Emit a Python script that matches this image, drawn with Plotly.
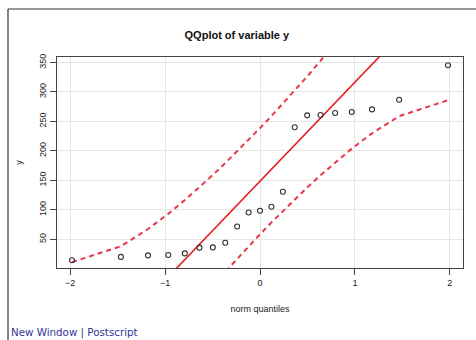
import plotly.graph_objects as go

# theoretical normal quantiles (x) and sorted sample values (y)
norm_q = [-1.981, -1.466, -1.180, -0.967, -0.792, -0.638, -0.497, -0.366, -0.241, -0.120, 0.0,
          0.120, 0.241, 0.366, 0.497, 0.638, 0.792, 0.967, 1.180, 1.466, 1.981]
y_vals = [14.3, 20.0, 22.6, 23.3, 26.0, 35.7, 36.2, 44.1, 71.7, 95.4, 98.3,
          105.1, 130.5, 240.0, 260.3, 260.8, 264.2, 265.9, 270.4, 286.7, 345.4]
# confidence envelope
env_upper = [11.1, 38.1, 67.3, 93.1, 116.5, 138.4, 159.2, 179.3, 199.0, 218.6, 238.6,
             259.0, 280.0, 302.3, 326.2, 352.8, 382.7, 418.1, 463.7, 530.7, 676.7]
env_lower = [-379.7, -233.7, -166.7, -121.1, -85.7, -55.8, -29.2, -5.3, 17.0, 38.0, 58.4,
             78.4, 98.0, 117.7, 137.8, 158.6, 180.5, 203.9, 229.7, 258.9, 285.9]
# reference line
line_intercept = 148.5
line_slope = 168.0
line_x = [-2.3, 2.3]
line_y = [line_intercept + line_slope * v for v in line_x]

x_ticks = [-2, -1, 0, 1, 2]
y_ticks = [50, 100, 150, 200, 250, 300, 350]

RED = "rgb(232,28,36)"
DRED = "rgb(230,55,75)"

fig = go.Figure()
fig.add_trace(go.Scatter(x=norm_q, y=env_upper, mode="lines",
                         line=dict(color=DRED, width=2, dash="5px,4px"), hoverinfo="skip"))
fig.add_trace(go.Scatter(x=norm_q, y=env_lower, mode="lines",
                         line=dict(color=DRED, width=2, dash="5px,4px"), hoverinfo="skip"))
fig.add_trace(go.Scatter(x=line_x, y=line_y, mode="lines",
                         line=dict(color=RED, width=1.6), hoverinfo="skip"))
fig.add_trace(go.Scatter(x=norm_q, y=y_vals, mode="markers",
                         marker=dict(symbol="circle-open", size=5, color="#333333",
                                     line=dict(width=1.1, color="#333333"))))

L, R, T, B = 57, 13, 57, 72
W, H = 476, 340
pw, ph = W - L - R, H - T - B

def px_x(p):
    return (p - L) / pw

def px_y(p):
    return (H - B - p) / ph

fig.update_layout(
    width=W, height=H,
    margin=dict(l=L, r=R, t=T, b=B),
    paper_bgcolor="white", plot_bgcolor="white",
    showlegend=False,
    font=dict(family="Liberation Sans, Arial, sans-serif", size=9, color="#222222"),
    title=dict(text="<b>QQplot of variable y</b>", x=px_x(259), xanchor="center",
               y=1 - 35 / H, yanchor="middle",
               font=dict(size=11, color="#111111")),
    xaxis=dict(range=[-2.139, 2.139], tickvals=x_ticks, ticktext=["\u22122", "\u22121", "0", "1", "2"],
               showgrid=True, gridcolor="#e6e6e6", gridwidth=1, zeroline=False,
               showline=True, linecolor="#444444", linewidth=1, mirror=True,
               ticks="outside", ticklen=6, tickcolor="#444444",
               title=dict(text="norm quantiles", standoff=18, font=dict(size=9))),
    yaxis=dict(range=[1.2, 359.3], tickvals=y_ticks, tickangle=-90,
               showgrid=True, gridcolor="#e6e6e6", gridwidth=1, zeroline=False,
               showline=True, linecolor="#444444", linewidth=1, mirror=True,
               ticks="outside", ticklen=6, tickcolor="#444444",
               title=dict(text="y", standoff=14, font=dict(size=9))),
    shapes=[
        dict(type="line", xref="paper", yref="paper", x0=px_x(8), x1=px_x(8),
             y0=px_y(9), y1=px_y(345), line=dict(color="#333333", width=1.2)),
        dict(type="line", xref="paper", yref="paper", x0=px_x(8), x1=px_x(480),
             y0=px_y(9), y1=px_y(9), line=dict(color="#333333", width=1.2)),
    ],
    annotations=[
        dict(text="New Window | Postscript", xref="paper", yref="paper",
             x=px_x(9), y=px_y(332), xanchor="left", yanchor="middle", showarrow=False,
             font=dict(family="DejaVu Sans, Verdana, sans-serif", size=10.3, color="#33339a")),
    ],
)

fig.write_html("out.html", config={"displayModeBar": False},
               post_script="document.body.style.margin='0';document.body.style.overflow='hidden';")
